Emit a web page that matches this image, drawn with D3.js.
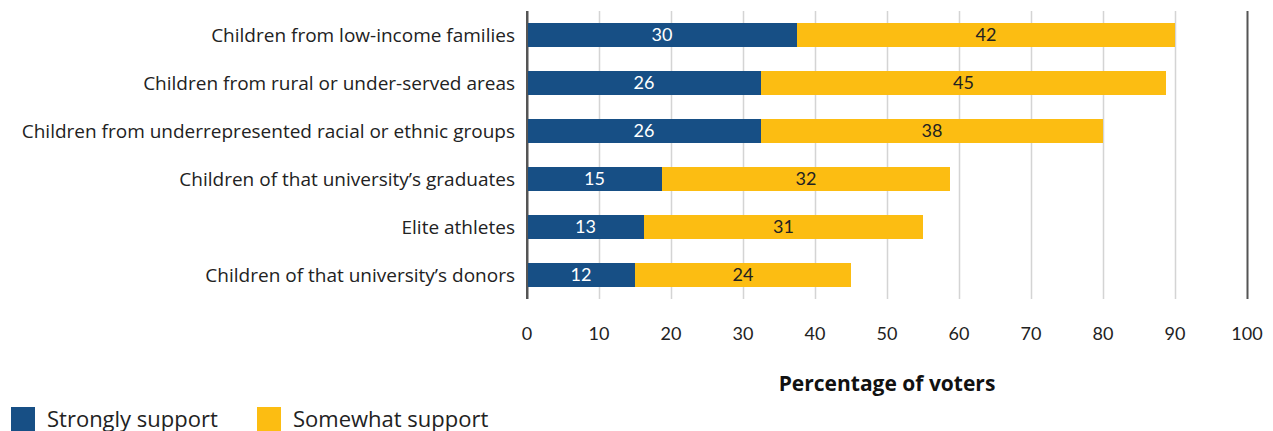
<!DOCTYPE html>
<html>
<head>
<meta charset="utf-8">
<script src="https://cdn.jsdelivr.net/npm/d3@7"></script>
<style>
  html, body { margin: 0; padding: 0; background: #fff; }
  svg { display: block; font-family: Lato, "Open Sans", sans-serif; }
  .cat, .legend-label, .axis-title { font-family: "Open Sans", Lato, sans-serif; }
</style>
</head>
<body>
<svg id="chart" width="1273" height="431"></svg>
<script>
// Admission preference groups and support levels
const categories = [
  "Children from low-income families",
  "Children from rural or under-served areas",
  "Children from underrepresented racial or ethnic groups",
  "Children of that university\u2019s graduates",
  "Elite athletes",
  "Children of that university\u2019s donors"
];
const strongly = [30, 26, 26, 15, 13, 12];
const somewhat = [42, 45, 38, 32, 31, 24];
const seriesNames = ["Strongly support", "Somewhat support"];
const tickLabels = ["0", "10", "20", "30", "40", "50", "60", "70", "80", "90", "100"];

const colors = ["#174f85", "#fcbd12"];
const labelColors = ["#ffffff", "#222222"];

const svg = d3.select("#chart");
const plotLeft = 527, plotRight = 1247, plotTop = 11, plotBottom = 299;

// Bar value scale; the axis spreads its labels evenly across the same span
const x = d3.scaleLinear().domain([0, 80]).range([plotLeft, plotRight]);
const tickVals = tickLabels.map((_, i) => i * 80 / (tickLabels.length - 1));

const y = d3.scaleBand().domain(categories).range([plotTop, plotBottom])
  .paddingInner(0.5).paddingOuter(0.25);

// Gridlines
svg.append("g").selectAll("line").data(tickVals).join("line")
  .attr("x1", d => Math.round(x(d)) + 0.5).attr("x2", d => Math.round(x(d)) + 0.5)
  .attr("y1", plotTop).attr("y2", plotBottom)
  .attr("stroke", (d, i) => (i === 0 || i === tickVals.length - 1) ? "#555" : "#d4d4d4")
  .attr("stroke-width", (d, i) => (i === 0 || i === tickVals.length - 1) ? 2 : 1.5);

// Stacked bars
const rows = categories.map((c, i) => ({ c, vals: [strongly[i], somewhat[i]] }));
const segs = [];
rows.forEach(r => {
  let acc = 0;
  r.vals.forEach((v, k) => {
    segs.push({ c: r.c, k, v, x0: acc, x1: acc + v });
    acc += v;
  });
});

svg.append("g").selectAll("rect").data(segs).join("rect")
  .attr("x", d => x(d.x0))
  .attr("width", d => x(d.x1) - x(d.x0))
  .attr("y", d => y(d.c))
  .attr("height", y.bandwidth())
  .attr("fill", d => colors[d.k]);

// Left axis line drawn over bars
svg.append("line")
  .attr("x1", plotLeft).attr("x2", plotLeft).attr("y1", plotTop).attr("y2", plotBottom)
  .attr("stroke", "#555").attr("stroke-width", 2);

// Value labels
svg.append("g").selectAll("text").data(segs).join("text")
  .attr("x", d => (x(d.x0) + x(d.x1)) / 2)
  .attr("y", d => y(d.c) + y.bandwidth() / 2)
  .attr("dy", "0.36em")
  .attr("text-anchor", "middle")
  .attr("font-size", 18)
  .attr("fill", d => labelColors[d.k])
  .text(d => d.v);

// Category labels
svg.append("g").selectAll("text").data(categories).join("text")
  .attr("class", "cat")
  .attr("x", 515)
  .attr("y", d => y(d) + y.bandwidth() / 2)
  .attr("dy", "0.36em")
  .attr("text-anchor", "end")
  .attr("font-size", 19)
  .attr("fill", "#222")
  .text(d => d);

// X axis tick labels
svg.append("g").selectAll("text").data(tickVals).join("text")
  .attr("x", d => x(d))
  .attr("y", 340)
  .attr("text-anchor", "middle")
  .attr("font-size", 18)
  .attr("fill", "#222")
  .text((d, i) => tickLabels[i]);

// Axis title
svg.append("text")
  .attr("class", "axis-title")
  .attr("x", 887).attr("y", 391)
  .attr("text-anchor", "middle")
  .attr("font-size", 21).attr("font-weight", "bold")
  .attr("fill", "#111")
  .text("Percentage of voters");

// Legend
const legendX = [11, 257];
const lg = svg.append("g").selectAll("g").data(seriesNames).join("g")
  .attr("transform", (d, i) => `translate(${legendX[i]},407)`);
lg.append("rect").attr("width", 24).attr("height", 24).attr("fill", (d, i) => colors[i]);
lg.append("text").attr("class", "legend-label").attr("x", 36).attr("y", 20)
  .attr("font-size", 22).attr("fill", "#222").text(d => d);
</script>
</body>
</html>
